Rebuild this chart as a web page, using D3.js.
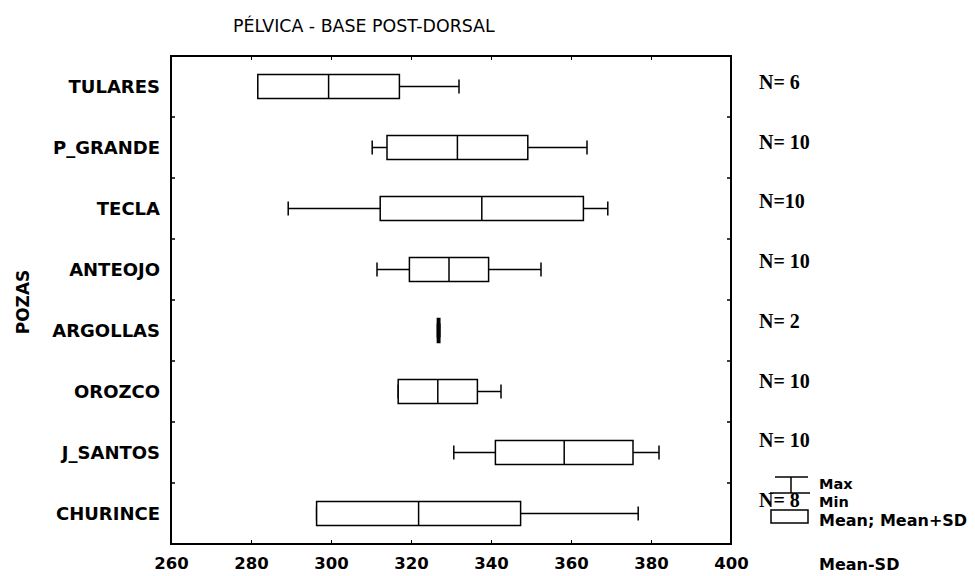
<!DOCTYPE html>
<html>
<head>
<meta charset="utf-8">
<script src="https://cdn.jsdelivr.net/npm/d3@7"></script>
<style>
  body { margin: 0; background: #fff; }
  text { fill: #000; }
</style>
</head>
<body>
<div id="chart"></div>
<script>
// pozas, top to bottom
const categories = ["TULARES", "P_GRANDE", "TECLA", "ANTEOJO", "ARGOLLAS", "OROZCO", "J_SANTOS", "CHURINCE"];
const means = [299.4, 331.6, 337.7, 329.5, 326.9, 326.7, 358.3, 321.9];
const sds = [17.7, 17.6, 25.4, 9.9, 0.3, 9.9, 17.2, 25.5];
const minValues = [281.7, 310.3, 289.3, 311.5, 326.6, 316.8, 330.7, 296.4];
const maxValues = [332.0, 364.0, 369.2, 352.5, 327.2, 342.5, 382.0, 376.8];
const nLabels = ["N= 6", "N= 10", "N=10", "N= 10", "N= 2", "N= 10", "N= 10", "N= 8"];
const xTicks = [260, 280, 300, 320, 340, 360, 380, 400];

const width = 975;
const height = 576;
const frame = { left: 171, right: 731, top: 56, bottom: 544 };
const sans = "'DejaVu Sans', sans-serif";

const svg = d3.select("#chart")
  .append("svg")
  .attr("width", width)
  .attr("height", height);

svg.append("rect")
  .attr("width", width)
  .attr("height", height)
  .attr("fill", "#fff");

const x = d3.scaleLinear()
  .domain([260, 400])
  .range([frame.left, frame.right]);

const y = d3.scaleBand()
  .domain(categories)
  .range([frame.top, frame.bottom]);

// N labels sit a bit off the rows in the original
const yN = d3.scalePoint()
  .domain(categories)
  .range([89, 507]);

const rows = categories.map((name, i) => ({
  name,
  mean: means[i],
  lo: means[i] - sds[i],
  hi: means[i] + sds[i],
  min: minValues[i],
  max: maxValues[i],
  n: nLabels[i]
}));

// title
svg.append("text")
  .attr("x", 233)
  .attr("y", 32)
  .attr("font-family", sans)
  .attr("font-size", 17.4)
  .text("PÉLVICA - BASE POST-DORSAL");

// axes (ticks only, the frame is drawn separately)
const bottomAxis = svg.append("g")
  .attr("transform", `translate(0,${frame.bottom})`)
  .call(d3.axisBottom(x).tickValues(xTicks).tickSizeInner(-4).tickSizeOuter(0).tickPadding(13));
bottomAxis.select(".domain").remove();
bottomAxis.selectAll("text")
  .attr("font-family", sans)
  .attr("font-size", 16.5)
  .attr("font-weight", "bold");

const topAxis = svg.append("g")
  .attr("transform", `translate(0,${frame.top})`)
  .call(d3.axisTop(x).tickValues(xTicks).tickSizeInner(-4).tickSizeOuter(0).tickFormat(""));
topAxis.select(".domain").remove();

svg.selectAll(".stat-tick")
  .data(categories.slice(1))
  .enter().append("g")
  .attr("class", "stat-tick")
  .each(function(d) {
    const g = d3.select(this);
    g.append("line")
      .attr("x1", frame.left).attr("x2", frame.left + 4)
      .attr("y1", y(d)).attr("y2", y(d));
    g.append("line")
      .attr("x1", frame.right).attr("x2", frame.right - 4)
      .attr("y1", y(d)).attr("y2", y(d));
  })
  .selectAll("line")
  .attr("stroke", "#000")
  .attr("stroke-width", 1.5);

svg.append("rect")
  .attr("x", frame.left)
  .attr("y", frame.top)
  .attr("width", frame.right - frame.left)
  .attr("height", frame.bottom - frame.top)
  .attr("fill", "none")
  .attr("stroke", "#000")
  .attr("stroke-width", 2);

// category labels
svg.selectAll(".cat-label")
  .data(categories)
  .enter().append("text")
  .attr("class", "cat-label")
  .attr("x", 160)
  .attr("y", d => y(d) + y.bandwidth() / 2)
  .attr("dy", "0.36em")
  .attr("text-anchor", "end")
  .attr("font-family", sans)
  .attr("font-size", 18)
  .attr("font-weight", "bold")
  .text(d => d);

svg.append("text")
  .attr("transform", "translate(29,302) rotate(-90)")
  .attr("text-anchor", "middle")
  .attr("font-family", sans)
  .attr("font-size", 17)
  .attr("font-weight", "bold")
  .text("POZAS");

// boxes
const boxH = 24;
const capH = 14;

const boxes = svg.selectAll(".box")
  .data(rows)
  .enter().append("g")
  .attr("class", "box")
  .attr("transform", d => `translate(0,${y(d.name) + y.bandwidth() / 2})`)
  .attr("stroke", "#000")
  .attr("stroke-width", 1.5);

boxes.append("line")
  .attr("x1", d => x(d.min))
  .attr("x2", d => x(d.max))
  .attr("y1", 0)
  .attr("y2", 0);

boxes.selectAll(".cap")
  .data(d => [d.min, d.max])
  .enter().append("line")
  .attr("class", "cap")
  .attr("x1", d => x(d))
  .attr("x2", d => x(d))
  .attr("y1", -capH / 2)
  .attr("y2", capH / 2);

boxes.append("rect")
  .attr("x", d => x(d.lo))
  .attr("y", -boxH / 2)
  .attr("width", d => x(d.hi) - x(d.lo))
  .attr("height", boxH)
  .attr("fill", "#fff");

boxes.append("line")
  .attr("x1", d => x(d.mean))
  .attr("x2", d => x(d.mean))
  .attr("y1", -boxH / 2)
  .attr("y2", boxH / 2);

// N labels
svg.selectAll(".n-label")
  .data(rows)
  .enter().append("text")
  .attr("class", "n-label")
  .attr("x", 759)
  .attr("y", d => yN(d.name))
  .attr("font-family", "'Liberation Serif', serif")
  .attr("font-size", 20)
  .attr("font-weight", "bold")
  .text(d => d.n);

// legend
const legend = svg.append("g")
  .attr("stroke", "#000")
  .attr("stroke-width", 1.5)
  .attr("fill", "none");

legend.append("line").attr("x1", 775).attr("x2", 808).attr("y1", 477).attr("y2", 477);
legend.append("line").attr("x1", 791).attr("x2", 791).attr("y1", 477).attr("y2", 493);
legend.append("line").attr("x1", 770).attr("x2", 810).attr("y1", 493).attr("y2", 493);
legend.append("rect").attr("x", 771).attr("y", 510).attr("width", 37).attr("height", 13).attr("fill", "#fff");

svg.selectAll(".legend-text")
  .data([["Max", 489, 14.5], ["Min", 507, 14.5], ["Mean; Mean+SD", 526, 16], ["Mean-SD", 570, 16]])
  .enter().append("text")
  .attr("class", "legend-text")
  .attr("x", 819)
  .attr("y", d => d[1])
  .attr("font-family", sans)
  .attr("font-size", d => d[2])
  .attr("font-weight", "bold")
  .text(d => d[0]);
</script>
</body>
</html>
